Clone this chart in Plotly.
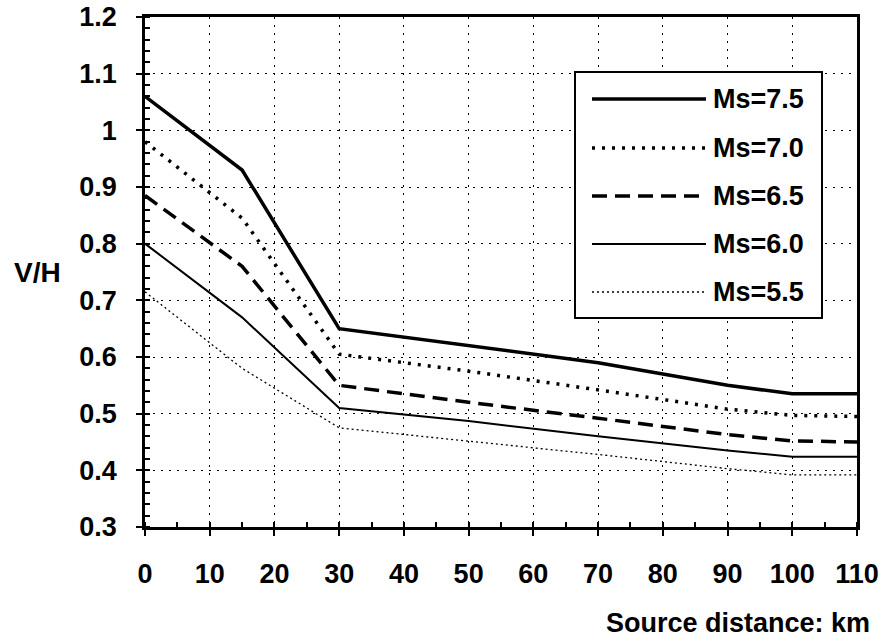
import plotly.graph_objects as go

# ---- data ----
distance = [0, 15, 30, 50, 70, 90, 100, 110]
series_names = ["Ms=7.5", "Ms=7.0", "Ms=6.5", "Ms=6.0", "Ms=5.5"]
vh_ms75 = [1.06, 0.93, 0.65, 0.62, 0.59, 0.55, 0.535, 0.535]
vh_ms70 = [0.98, 0.845, 0.605, 0.575, 0.542, 0.508, 0.497, 0.495]
vh_ms65 = [0.885, 0.76, 0.55, 0.52, 0.492, 0.463, 0.452, 0.45]
vh_ms60 = [0.80, 0.67, 0.51, 0.487, 0.46, 0.435, 0.424, 0.424]
vh_ms55 = [0.715, 0.58, 0.475, 0.452, 0.428, 0.403, 0.392, 0.392]
x_tickvals = [0, 10, 20, 30, 40, 50, 60, 70, 80, 90, 100, 110]
y_tickvals = [0.3, 0.4, 0.5, 0.6, 0.7, 0.8, 0.9, 1.0, 1.1, 1.2]
y_ticktext = ["0.3", "0.4", "0.5", "0.6", "0.7", "0.8", "0.9", "1", "1.1", "1.2"]

values = [vh_ms75, vh_ms70, vh_ms65, vh_ms60, vh_ms55]
styles = [
    dict(width=3.5, dash="solid"),
    dict(width=3.5, dash="3px,7px"),
    dict(width=3.5, dash="15px,8px"),
    dict(width=2, dash="solid"),
    dict(width=1.3, dash="2px,3px"),
]

W, H = 884, 641
ML, MR, MT, MB = 145, 27, 17, 114
PW, PH = W - ML - MR, H - MT - MB

def px(x):
    return (x - ML) / PW

def py(y):
    return (H - MB - y) / PH

FONT = "Liberation Sans"
FS = 27

def bold(size=FS):
    return dict(family=FONT, size=size, color="black", weight="bold")

fig = go.Figure()
for name, vals, st in zip(series_names, values, styles):
    fig.add_trace(go.Scatter(
        x=distance, y=vals, mode="lines", name=name,
        line=dict(color="black", width=st["width"], dash=st["dash"]),
        showlegend=False,
    ))

# custom legend box
shapes = [dict(type="rect", xref="paper", yref="paper",
               x0=px(575), x1=px(822), y0=py(318), y1=py(72),
               line=dict(color="black", width=2), fillcolor="white", layer="above")]
annotations = []
row_y = [99, 148, 196, 244, 292]
for name, st, ry in zip(series_names, styles, row_y):
    shapes.append(dict(type="line", xref="paper", yref="paper",
                       x0=px(592), x1=px(706), y0=py(ry), y1=py(ry),
                       line=dict(color="black", width=st["width"], dash=st["dash"]),
                       layer="above"))
    annotations.append(dict(xref="paper", yref="paper", x=px(711), y=py(ry),
                            text=name, showarrow=False, xanchor="left", yanchor="middle",
                            font=bold(27)))

annotations.append(dict(xref="paper", yref="paper", x=px(37), y=py(272), text="V/H",
                        showarrow=False, xanchor="center", yanchor="middle",
                        font=bold(28)))
annotations.append(dict(xref="paper", yref="paper", x=px(872), y=py(623),
                        text="Source distance: km", showarrow=False,
                        xanchor="right", yanchor="middle",
                        font=bold(27)))

fig.update_layout(
    width=W, height=H,
    margin=dict(l=ML, r=MR, t=MT, b=MB, pad=0, autoexpand=False),
    paper_bgcolor="white", plot_bgcolor="white",
    shapes=shapes, annotations=annotations,
    font=bold(),
    xaxis=dict(range=[0, 110], tickvals=x_tickvals, showgrid=True, automargin=False,
               gridcolor="black", griddash="2px,6px", gridwidth=1.3,
               showline=True, linecolor="black", linewidth=2.5, mirror=True,
               ticks="outside", ticklen=6, tickwidth=1.5, tickcolor="black",
               ticklabelstandoff=15, zeroline=False,
               minor=dict(dtick=5, ticks="inside", ticklen=5, tickcolor="black", showgrid=False),
               tickfont=bold()),
    yaxis=dict(range=[0.3, 1.2], tickvals=y_tickvals, ticktext=y_ticktext, showgrid=True,
               automargin=False,
               gridcolor="black", griddash="2px,6px", gridwidth=1.3,
               showline=True, linecolor="black", linewidth=2.5, mirror=True,
               ticks="outside", ticklen=6, tickwidth=1.5, tickcolor="black",
               ticklabelstandoff=14, zeroline=False,
               minor=dict(dtick=0.02, ticks="inside", ticklen=5, tickcolor="black", showgrid=False),
               tickfont=bold()),
)

fig.write_html("out.html")
